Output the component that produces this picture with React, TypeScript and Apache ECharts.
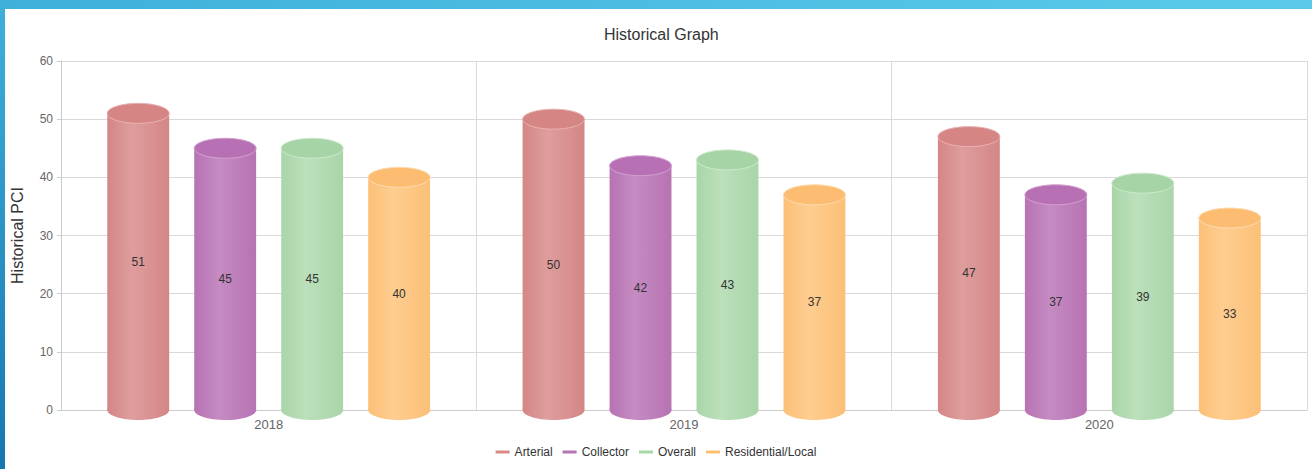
import React, { useEffect, useRef } from "react";
import * as echarts from "echarts";

const categories = ["2018", "2019", "2020"];
const seriesNames = ["Arterial", "Collector", "Overall", "Residential/Local"];
const arterial = [51, 50, 47];
const collector = [45, 42, 37];
const overall = [45, 43, 39];
const residential = [40, 37, 33];
const yTicks = [0, 10, 20, 30, 40, 50, 60];

const palette = [
  { legend: "#d98888", edge: "#d48686", light: "#df9d9d", top: "#d68585", rim: "#e9b3b3" },
  { legend: "#b673b3", edge: "#b773b3", light: "#c58bc2", top: "#b870b4", rim: "#d3a2d0" },
  { legend: "#a9d7a9", edge: "#a9d5a9", light: "#bbe0bb", top: "#a6d4a6", rim: "#cdeacd" },
  { legend: "#fdbf72", edge: "#fcc077", light: "#fecd90", top: "#fcbd72", rim: "#fedcb0" },
];

export default function App() {
  const ref = useRef<HTMLDivElement>(null);
  useEffect(() => {
    document.body.style.margin = "0";
    const chart = echarts.init(ref.current!, null, { renderer: "svg" });
    const allValues = [arterial, collector, overall, residential];
    const font = "'Liberation Sans', Arial, sans-serif";
    const series = allValues.map((vals, sIdx) => {
      const p = palette[sIdx];
      const grad = new echarts.graphic.LinearGradient(0, 0, 1, 0, [
        { offset: 0, color: p.edge },
        { offset: 0.4, color: p.light },
        { offset: 1, color: p.edge },
      ]);
      return {
        name: seriesNames[sIdx],
        type: "custom",
        itemStyle: { color: p.legend },
        data: vals.map((v, i) => [i, v]),
        renderItem: (params: any, api: any) => {
          const ci = api.value(0);
          const v = api.value(1);
          const band = api.size([1, 0])[0];
          const base = api.coord([ci, 0]);
          const top = api.coord([ci, v]);
          const w = band * 0.149;
          const step = band * 0.2094;
          const cx = base[0] + (sIdx - 1.5) * step;
          const rx = w / 2;
          const ry = 10;
          return {
            type: "group",
            children: [
              { type: "ellipse", shape: { cx, cy: base[1], rx, ry }, style: { fill: grad } },
              { type: "rect", shape: { x: cx - rx, y: top[1], width: w, height: base[1] - top[1] }, style: { fill: grad } },
              { type: "ellipse", shape: { cx, cy: top[1], rx, ry }, style: { fill: p.top, stroke: p.rim, lineWidth: 1 } },
              {
                type: "text",
                x: cx,
                y: (base[1] + top[1]) / 2,
                style: { text: String(v), fill: "#333", font: `12px ${font}`, align: "center", verticalAlign: "middle" },
              },
            ],
          };
        },
      };
    });
    chart.setOption({
      animation: false,
      backgroundColor: "#fff",
      textStyle: { fontFamily: font },
      graphic: [
        {
          type: "rect",
          shape: { x: 0, y: 0, width: 1312, height: 9 },
          style: { fill: new echarts.graphic.LinearGradient(0, 0, 1, 0, [{ offset: 0, color: "#3fb0da" }, { offset: 1, color: "#5bcaea" }]) },
        },
        {
          type: "rect",
          shape: { x: 0, y: 0, width: 5, height: 469 },
          style: { fill: new echarts.graphic.LinearGradient(0, 0, 0, 1, [{ offset: 0, color: "#3fb0da" }, { offset: 1, color: "#1677b0" }]) },
        },
      ],
      title: {
        text: "Historical Graph",
        left: 599,
        top: 21,
        textStyle: { fontSize: 16, fontWeight: "normal", color: "#333", fontFamily: font },
      },
      legend: {
        bottom: 6,
        left: "center",
        itemWidth: 14,
        itemHeight: 3,
        itemGap: 10,
        icon: "rect",
        textStyle: { fontSize: 12, color: "#333", fontFamily: font },
        data: seriesNames,
      },
      grid: { left: 61, right: 5, top: 61, bottom: 59 },
      xAxis: {
        type: "category",
        data: categories,
        axisLine: { lineStyle: { color: "#ccc" } },
        axisTick: { show: false },
        axisLabel: { color: "#666", fontSize: 13, margin: 8 },
        splitLine: { show: true, lineStyle: { color: "#d9d9d9" } },
      },
      yAxis: {
        type: "value",
        min: yTicks[0],
        max: yTicks[yTicks.length - 1],
        interval: 10,
        name: "Historical PCI",
        nameLocation: "middle",
        nameGap: 36,
        nameTextStyle: { fontSize: 16, color: "#333" },
        axisLine: { show: true, lineStyle: { color: "#ccc" } },
        axisTick: { show: true, length: 4, lineStyle: { color: "#ccc" } },
        axisLabel: { color: "#666", fontSize: 12, margin: 8 },
        splitLine: { lineStyle: { color: "#d9d9d9" } },
      },
      series,
    });
    return () => chart.dispose();
  }, []);
  return <div ref={ref} style={{ width: 1312, height: 469 }} />;
}
